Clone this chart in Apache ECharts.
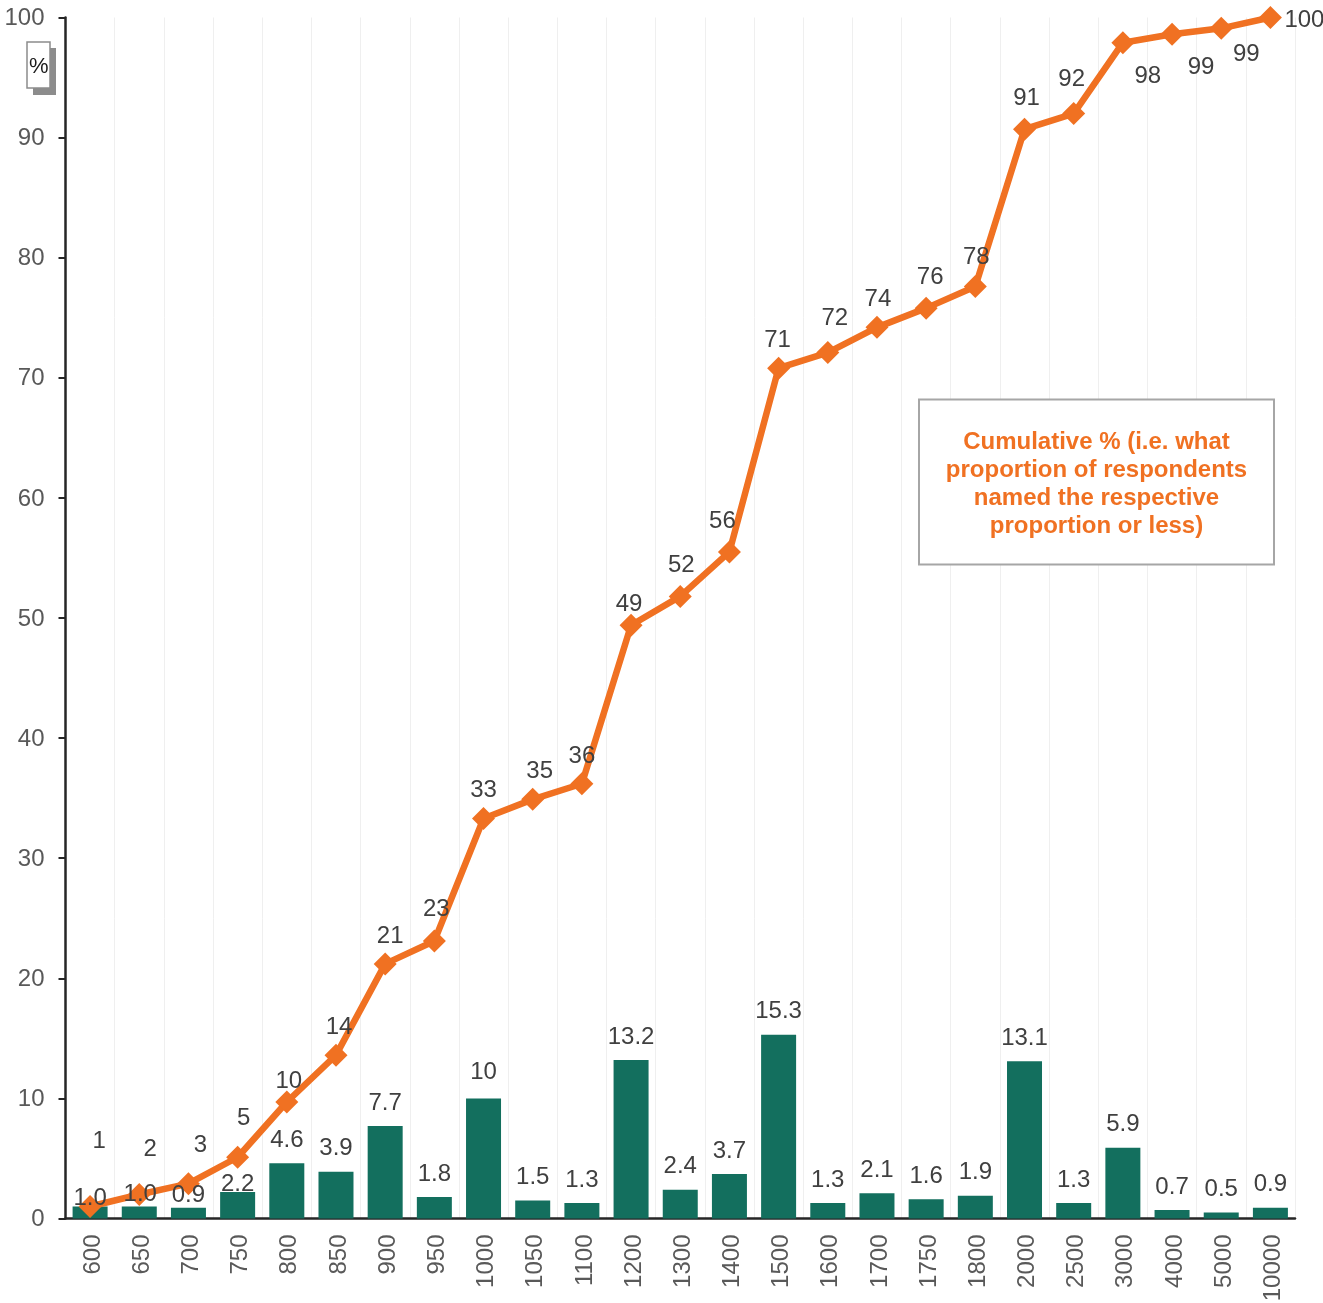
<!DOCTYPE html>
<html>
<head>
<meta charset="utf-8">
<style>html,body{margin:0;padding:0;background:#fff}#chart{width:1323px;height:1303px}</style>
<script src="https://cdn.jsdelivr.net/npm/echarts@6/dist/echarts.min.js"></script>
</head>
<body>
<div id="chart"></div>
<script>
const categories = ['600','650','700','750','800','850','900','950','1000','1050','1100','1200','1300','1400','1500','1600','1700','1750','1800','2000','2500','3000','4000','5000','10000'];
const shareValues = [1.0,1.0,0.9,2.2,4.6,3.9,7.7,1.8,10,1.5,1.3,13.2,2.4,3.7,15.3,1.3,2.1,1.6,1.9,13.1,1.3,5.9,0.7,0.5,0.9];
const cumulativeValues = [1.0,2.0,2.9,5.1,9.7,13.6,21.2,23.1,33.3,34.9,36.2,49.4,51.8,55.5,70.8,72.1,74.2,75.8,77.6,90.7,92.0,97.9,98.6,99.1,100];
const yTicks = [0,10,20,30,40,50,60,70,80,90,100];
const noteLines = ['Cumulative % (i.e. what','proportion of respondents','named the respective','proportion or less)'];
const unitText = '%';

// Hand-placed label nudges, in pixels, so labels stay clear of the line
const cumulativeLabelShift = [[9,-65],[11,-45],[12,-38],[6,-39],[2,-21],[3,-28],[5,-28],[2,-32],[0,-28],[7,-28],[0,-27],[-2,-21],[1,-31],[-7,-31],[-1,-28],[7,-34],[1,-28],[4,-31],[1,-29],[2,-31],[-2,-34],[25,34],[29,33],[25,26],[34,3]];
const shareLabelShift = [[0,9],[1,5],[0,5],[0,9],[0,-6],[0,-6],[0,-6],[0,-6],[0,-9],[0,-6],[0,-6],[0,-6],[0,-6],[0,-6],[0,-6],[0,-6],[0,-6],[0,-6],[0,-6],[0,-6],[0,-6],[0,-6],[0,-6],[0,-6],[0,-6]];

const ORANGE = '#F07122';
const GREEN = '#136F5E';
const FONT = '"Liberation Sans", Arial, sans-serif';

const chart = echarts.init(document.getElementById('chart'), null, {renderer: 'canvas'});
const shareLabel = v => (v === 10 ? '10' : v.toFixed(1));

chart.setOption({
  animation: false,
  backgroundColor: '#fff',
  grid: {left: 65.5, right: 28, top: 17.5, bottom: 84.5, outerBoundsMode: 'none'},
  xAxis: {
    type: 'category',
    data: categories,
    axisLine: {lineStyle: {color: '#262626', width: 2.5}},
    axisTick: {show: false},
    axisLabel: {rotate: 90, color: '#595959', fontSize: 24, fontFamily: FONT, margin: 16, interval: 0,
      verticalAlign: 'top', lineHeight: 6},
    splitLine: {show: true, lineStyle: {color: '#EFEFEF', width: 1}}
  },
  yAxis: {
    type: 'value',
    min: 0, max: 100, interval: 10,
    axisLine: {show: true, lineStyle: {color: '#262626', width: 2.5}},
    axisTick: {show: true, length: 7, lineStyle: {color: '#262626', width: 2}},
    axisLabel: {color: '#595959', fontSize: 24, fontFamily: FONT, margin: 21,
      verticalAlign: 'top', lineHeight: 2,
      formatter: v => yTicks.includes(v) ? String(v) : ''},
    splitLine: {show: false}
  },
  series: [
    {
      type: 'bar',
      data: shareValues,
      barWidth: 35,
      barGap: '-100%',
      z: 2,
      itemStyle: {color: GREEN}
    },
    {
      type: 'line',
      data: cumulativeValues.map((v, i) => ({
        value: v,
        label: {offset: cumulativeLabelShift[i]}
      })),
      z: 3,
      symbol: 'diamond',
      symbolSize: 23,
      lineStyle: {color: ORANGE, width: 6.5},
      itemStyle: {color: ORANGE},
      label: {show: true, position: 'inside', color: '#404040', fontSize: 24, fontFamily: FONT,
        formatter: p => String(Math.round(p.value))}
    },
    {
      // Invisible twin of the bars: it lifts their value labels above the line and its markers
      type: 'bar',
      data: shareValues.map((v, i) => ({
        value: v,
        label: {offset: shareLabelShift[i]}
      })),
      barWidth: 35,
      barGap: '-100%',
      z: 4,
      itemStyle: {color: 'transparent'},
      label: {show: true, position: 'top', color: '#404040', fontSize: 24, fontFamily: FONT,
        formatter: p => shareLabel(p.value)}
    }
  ],
  graphic: [
    {type: 'rect', x: 919, y: 399.5, z: 50,
      shape: {width: 355, height: 165},
      style: {fill: '#fff', stroke: '#A6A6A6', lineWidth: 2}},
    {type: 'text', z: 51, x: 1096.5, y: 429,
      style: {text: noteLines.join('\n'), fill: ORANGE, font: 'bold 24px ' + FONT, align: 'center', lineHeight: 27.7}},
    {type: 'rect', x: 33, y: 48, z: 50,
      shape: {width: 23, height: 47}, style: {fill: '#8C8C8C'}},
    {type: 'rect', x: 27, y: 42, z: 51,
      shape: {width: 23, height: 46}, style: {fill: '#fff', stroke: '#8C8C8C', lineWidth: 1.5}},
    {type: 'text', z: 52, x: 29, y: 56,
      style: {text: unitText, fill: '#1a1a1a', font: '22px ' + FONT}}
  ]
});
</script>
</body>
</html>
